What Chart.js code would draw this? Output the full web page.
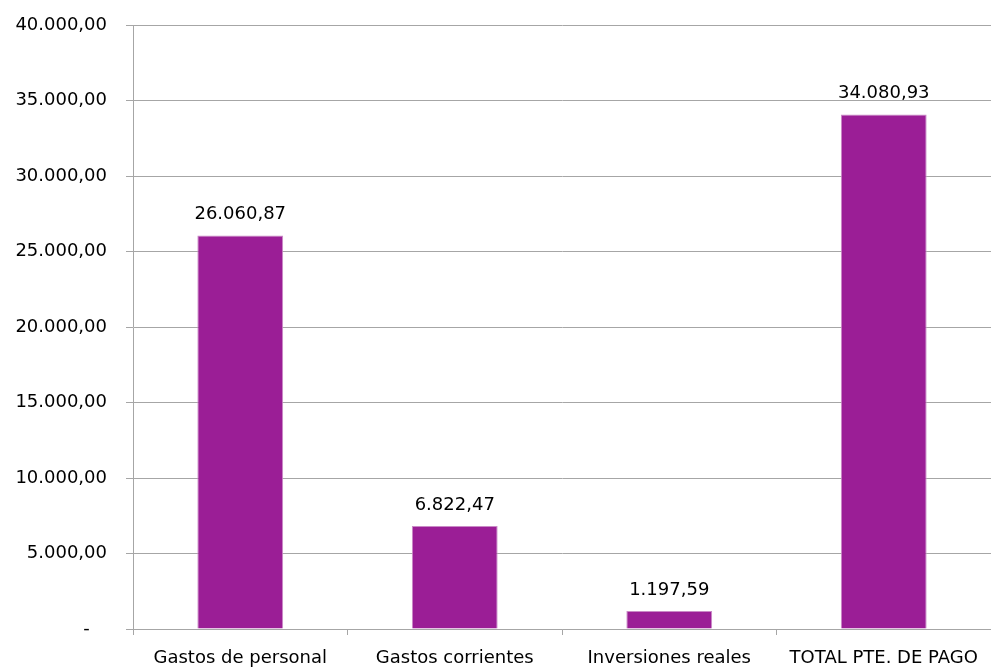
<!DOCTYPE html>
<html>
<head>
<meta charset="utf-8">
<script src="https://cdn.jsdelivr.net/npm/chart.js@4"></script>
<style>
  html, body { margin: 0; padding: 0; background: #fff; }
  #wrap { width: 991px; height: 668px; }
</style>
</head>
<body>
<div id="wrap"><canvas id="canvas"></canvas></div>
<script>
const categories = ['Gastos de personal', 'Gastos corrientes', 'Inversiones reales', 'TOTAL PTE. DE PAGO'];
const values = [26060.87, 6822.47, 1197.59, 34080.93];
const yTicks = [0, 5000, 10000, 15000, 20000, 25000, 30000, 35000, 40000];

// formato 1.234,56
function fmt(v) {
  const parts = v.toFixed(2).split('.');
  const ent = parts[0].replace(/\B(?=(\d{3})+(?!\d))/g, '.');
  return ent + ',' + parts[1];
}

const grey = '#a6a6a6';
const font = { family: 'DejaVu Sans', size: 18 };

const valueLabels = {
  id: 'valueLabels',
  afterDatasetsDraw(chart) {
    const c = chart.ctx;
    const meta = chart.getDatasetMeta(0);
    c.save();
    c.font = font.size + 'px ' + font.family;
    c.fillStyle = '#000';
    c.textAlign = 'center';
    c.textBaseline = 'bottom';
    meta.data.forEach((bar, i) => {
      c.fillText(fmt(values[i]), bar.x, bar.y - 12);
    });
    c.restore();
  }
};

const ctx = document.getElementById('canvas');

new Chart(ctx, {
  type: 'bar',
  data: {
    labels: categories,
    datasets: [{
      data: values,
      backgroundColor: '#9b1e96',
      borderColor: '#c98ac6',
      borderWidth: 1,
      borderSkipped: 'bottom',
      categoryPercentage: 1,
      barPercentage: 0.4
    }]
  },
  options: {
    responsive: true,
    maintainAspectRatio: false,
    animation: false,
    layout: { padding: { top: 25, right: 0, left: 0, bottom: 0 } },
    plugins: {
      legend: { display: false },
      tooltip: { enabled: false }
    },
    scales: {
      x: {
        afterFit: s => { s.height = 39; s.paddingLeft = 0; s.paddingRight = 0; },
        grid: {
          offset: true,
          drawOnChartArea: false,
          drawTicks: true,
          tickLength: 6,
          color: grey
        },
        border: { display: true, color: grey },
        ticks: { color: '#000', font: font, padding: 13, maxRotation: 0, autoSkip: false }
      },
      y: {
        min: 0,
        max: 40000,
        afterFit: s => { s.width = 133; s.paddingTop = 0; s.paddingBottom = 0; },
        afterBuildTicks: s => { s.ticks = yTicks.map(v => ({ value: v })); },
        grid: { color: grey, tickLength: 7, drawTicks: true },
        border: { display: true, color: grey },
        ticks: {
          color: '#000',
          font: font,
          padding: 19,
          callback: v => v === 0 ? '-   ' : fmt(v)
        }
      }
    }
  },
  plugins: [valueLabels]
});
</script>
</body>
</html>
